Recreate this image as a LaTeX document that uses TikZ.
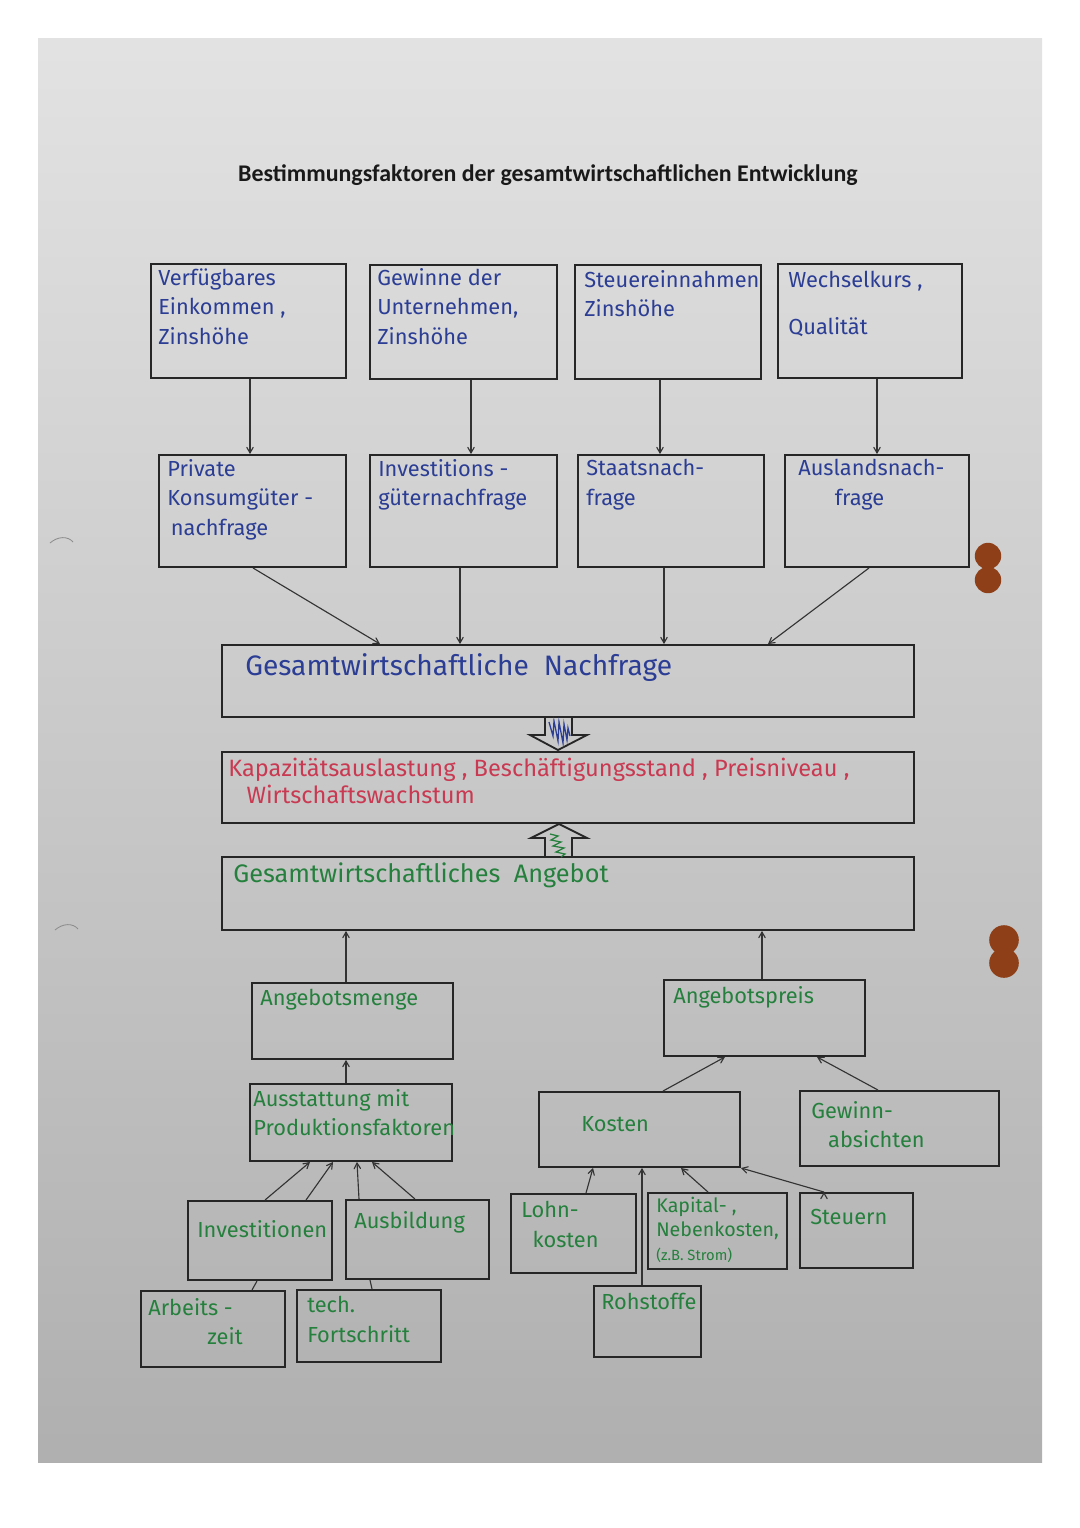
\documentclass[tikz,border=0pt]{standalone}
\usepackage{fontspec}
\setmainfont{Carlito}
\newfontfamily\handfont{Fira Sans}
\usepackage{xcolor}
\usepackage{tikz}
\usetikzlibrary{arrows,shapes,fit,calc}

\definecolor{penblue}{HTML}{2B3D94}
\definecolor{pengreen}{HTML}{24803C}
\definecolor{penred}{HTML}{C93A52}
\definecolor{paper}{HTML}{D6D6D6}
\definecolor{hole}{HTML}{8E3F17}

\tikzset{
  box/.style={draw=black!85,line width=1.4pt,inner sep=0pt,fit={#1}},
  hand/.style={anchor=north west,inner sep=0pt,align=left,
    font=\handfont\fontsize{15.5}{21}\selectfont},
  bigarrow/.style={draw=black!85,line width=1.3pt,line join=miter}
}

\begin{document}
\begin{tikzpicture}[x=0.025cm,y=-0.025cm]
		\useasboundingbox (0,0) rectangle (1080,1528);
		% sheet of paper
		\shade[top color=paper!70!white,middle color=paper,bottom color=paper!82!black] (38,38) rectangle (1042,1462);
		\fill[hole] (988,556) circle[radius=0.33cm] (988,580) circle[radius=0.33cm];
		\fill[hole] (1004,940) circle[radius=0.37cm] (1004,963) circle[radius=0.37cm];
		\draw[black!45,line width=0.6pt] (50,543) .. controls (58,536) and (68,536) .. (73,542);
		\draw[black!45,line width=0.6pt] (55,930) .. controls (63,923) and (73,923) .. (78,929);
		%
		\node[font=\bfseries\fontsize{17}{20}\selectfont,text=black!90] (title) at (548,175)
			{Bestimmungsfaktoren der gesamtwirtschaftlichen Entwicklung};
		%
		% determinants
		\node[box={(151,264) (346,378)}] (vk) {};
		\node[box={(370,265) (557,379)}] (gu) {};
		\node[box={(575,265) (761,379)}] (se) {};
		\node[box={(778,264) (962,378)}] (wk) {};
		\node[hand,text=penblue] (vk-t) at (158,268) {Verfügbares\\Einkommen ,\\Zinshöhe};
		\node[hand,text=penblue] (gu-t) at (377,268) {Gewinne der\\Unternehmen,\\Zinshöhe};
		\node[hand,text=penblue] (se-t) at (584,270) {Steuereinnahmen\\Zinshöhe};
		\node[hand,text=penblue] (wk-t) at (788,271) {Wechselkurs ,\\[12pt] Qualität};
		%
		% parts of demand
		\node[box={(159,455) (346,567)}] (pk) {};
		\node[box={(370,455) (557,567)}] (ig) {};
		\node[box={(578,455) (764,567)}] (sn) {};
		\node[box={(785,455) (969,567)}] (an) {};
		\node[hand,text=penblue] (pk-t) at (167,459) {Private\\Konsumgüter -\\\,nachfrage};
		\node[hand,text=penblue] (ig-t) at (378,459) {Investitions -\\güternachfrage};
		\node[hand,text=penblue] (sn-t) at (586,459) {Staatsnach-\\frage};
		\node[hand,text=penblue] (an-t) at (798,459) {Auslandsnach-\\\hspace{26pt}frage};
		%
		% aggregates
		\node[box={(222,645) (914,717)}] (gn) {};
		\node[box={(222,752) (914,823)}] (ks) {};
		\node[box={(222,857) (914,930)}] (ga) {};
		\node[hand,text=penblue,font=\handfont\fontsize{20}{22}\selectfont] (gn-t) at (245,653) {Gesamtwirtschaftliche\ \ Nachfrage};
		\node[hand,text=penred,font=\handfont\fontsize{16.8}{19}\selectfont] (ks-t) at (228,758) {Kapazitätsauslastung , Beschäftigungsstand , Preisniveau ,\\\hspace{13pt}Wirtschaftswachstum};
		\node[hand,text=pengreen,font=\handfont\fontsize{18}{22}\selectfont] (ga-t) at (233,862) {Gesamtwirtschaftliches\ \ Angebot};
		% block arrows between the aggregates
		\draw[bigarrow] (545,717) -- (545,735) -- (530,735) -- (558,750) -- (587,735) -- (572,735) -- (572,717);
		\draw[bigarrow] (545,857) -- (545,838) -- (531,838) -- (559,824) -- (587,838) -- (572,838) -- (572,857);
		\draw[penblue,line width=0.9pt] (549,722) -- (553,736) -- (554,721) -- (558,741) -- (559,722) -- (563,743) -- (564,724) -- (567,740) -- (568,728) -- (570,736);
		\draw[pengreen,line width=0.9pt] (550,834) -- (558,836) -- (551,840) -- (561,842) -- (553,846) -- (564,848) -- (556,852) -- (565,854) -- (561,857);
		%
		% supply side
		\node[box={(252,983) (453,1059)}] (am) {};
		\node[box={(250,1084) (452,1161)}] (ap) {};
		\node[box={(188,1201) (332,1280)}] (iv) {};
		\node[box={(346,1200) (489,1279)}] (ab) {};
		\node[box={(141,1291) (285,1367)}] (az) {};
		\node[box={(297,1290) (441,1362)}] (tf) {};
		\node[hand,text=pengreen] (am-t) at (260,989) {Angebotsmenge};
		\node[hand,text=pengreen] (ap-t) at (253,1089) {Ausstattung mit\\Produktionsfaktoren};
		\node[hand,text=pengreen] (iv-t) at (197,1220) {Investitionen};
		\node[hand,text=pengreen] (ab-t) at (354,1211) {Ausbildung};
		\node[hand,text=pengreen] (az-t) at (148,1298) {Arbeits -\\\hspace{42pt}zeit};
		\node[hand,text=pengreen] (tf-t) at (307,1296) {tech.\\Fortschritt};
		%
		\node[box={(664,980) (865,1056)}] (pr) {};
		\node[box={(539,1092) (740,1167)}] (ko) {};
		\node[box={(800,1091) (999,1166)}] (gw) {};
		\node[box={(511,1194) (636,1273)}] (lk) {};
		\node[box={(648,1193) (787,1269)}] (kn) {};
		\node[box={(800,1193) (913,1268)}] (st) {};
		\node[box={(594,1286) (701,1357)}] (rs) {};
		\node[hand,text=pengreen] (pr-t) at (673,986) {Angebotspreis};
		\node[hand,text=pengreen] (ko-t) at (581,1116) {Kosten};
		\node[hand,text=pengreen] (gw-t) at (811,1101) {Gewinn-\\\hspace{12pt}absichten};
		\node[hand,text=pengreen] (lk-t) at (521,1201) {Lohn-\\\hspace{8pt}kosten};
		\node[hand,text=pengreen,font=\handfont\fontsize{14}{17}\selectfont] (kn-t) at (656,1197) {Kapital- ,\\Nebenkosten,\\{\fontsize{10.5}{12}\selectfont(z.B. Strom)}};
		\node[hand,text=pengreen] (st-t) at (810,1209) {Steuern};
		\node[hand,text=pengreen] (rs-t) at (601,1293) {Rohstoffe};
		%
		\path[->,>=angle 60,line width=0.8pt,draw=black!80]
		% determinants to parts of demand
		(vk.south -| 250,0) edge (pk.north -| 250,0)
		(gu.south -| 471,0) edge (ig.north -| 471,0)
		(se.south -| 660,0) edge (sn.north -| 660,0)
		(wk.south -| 877,0) edge (an.north -| 877,0)
		% parts of demand to total demand
		(pk.south -| 253,0) edge (gn.north -| 380,0)
		(ig.south -| 460,0) edge (gn.north -| 460,0)
		(sn.south -| 664,0) edge (gn.north -| 664,0)
		(an.south -| 869,0) edge (gn.north -| 768,0)
		% supply
		(am.north -| 346,0) edge (ga.south -| 346,0)
		(pr.north -| 762,0) edge (ga.south -| 762,0)
		(ap.north -| 346,0) edge (am.south -| 346,0)
		(iv.north -| 265,0) edge (ap.south -| 310,0)
		(iv.north -| 306,0) edge (ap.south -| 333,0)
		(ab.north -| 359,0) edge (ap.south -| 357,0)
		(ab.north -| 415,0) edge (ap.south -| 372,0)
		% price
		(ko.north -| 663,0) edge (pr.south -| 725,0)
		(gw.north -| 878,0) edge (pr.south -| 817,0)
		(lk.north -| 586,0) edge (ko.south -| 593,0)
		(rs.north -| 642,0) edge (ko.south -| 642,0)
		(kn.north -| 708,0) edge (ko.south -| 681,0)
		(st.north -| 824,0) edge (ko.south -| 741,0);
		% plain links
		\draw[line width=0.8pt,black!80] (iv.south -| 257,0) -- (az.north -| 252,0);
		\draw[line width=0.8pt,black!80] (ab.south -| 370,0) -- (tf.north -| 372,0);
		\end{tikzpicture}
\end{document}
